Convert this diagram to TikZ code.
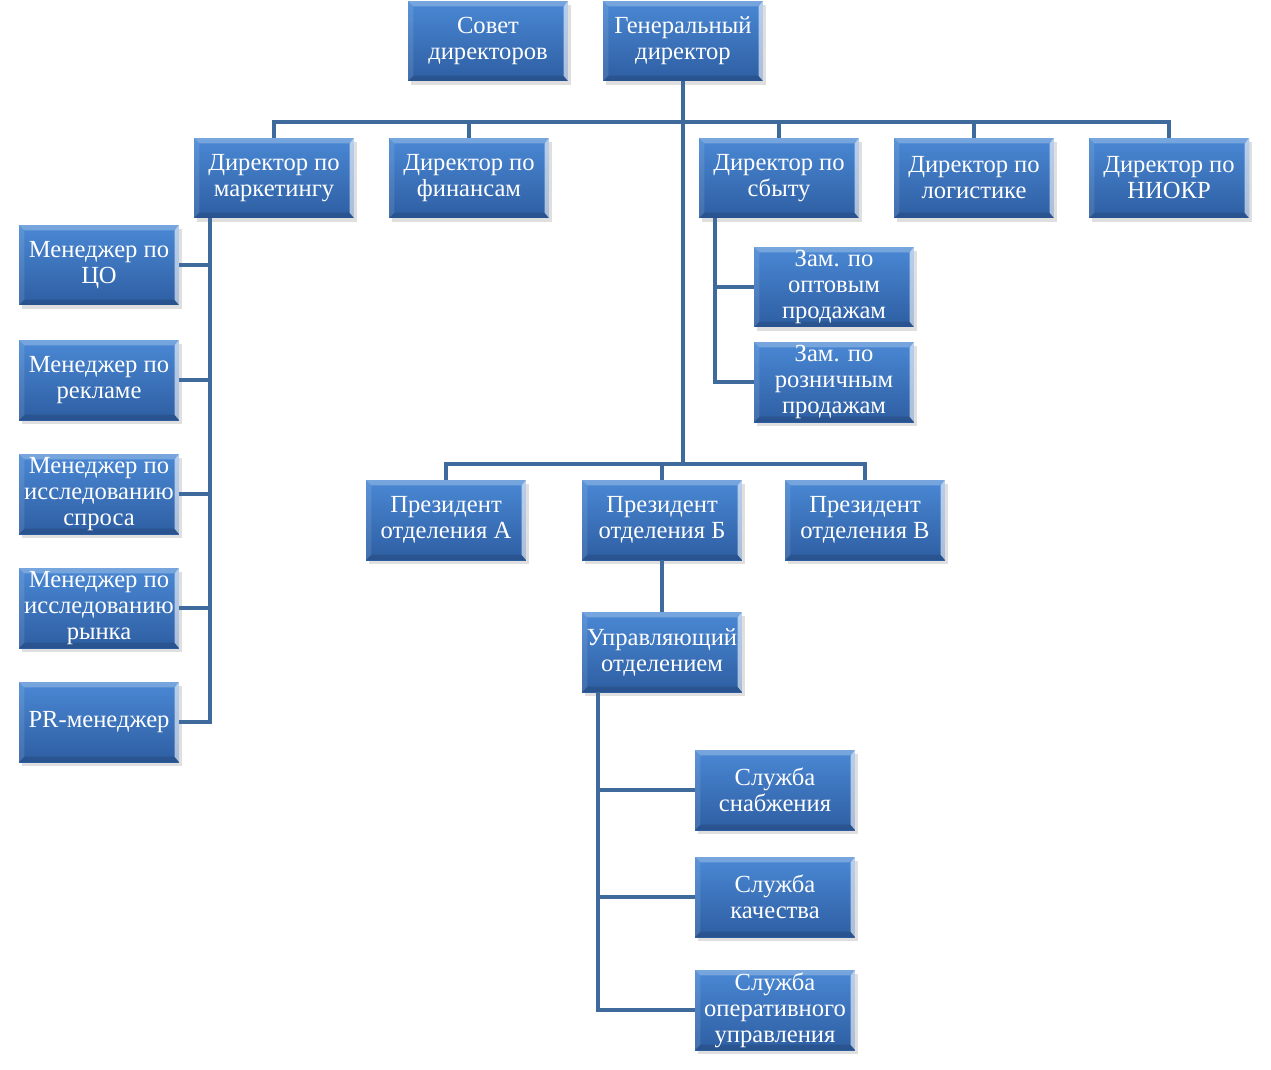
\documentclass[tikz,border=0pt]{standalone}
\usepackage{fontspec}
\setmainfont{Liberation Serif}
\usetikzlibrary{shadows}
\definecolor{boxtop}{RGB}{74,136,212}
\definecolor{boxbottom}{RGB}{46,94,162}
\definecolor{linkblue}{RGB}{62,106,156}
\tikzstyle{post}=[rectangle, inner sep=0pt,
                  minimum width=3.2cm, minimum height=1.6cm,
                  top color=boxtop, bottom color=boxbottom,
                  text=white, align=center,
                  font=\fontsize{14}{14.8}\selectfont,
                  drop shadow={shadow xshift=1.5pt,shadow yshift=-2.5pt,opacity=0.25},
                  path picture={
                    \coordinate (nw) at (path picture bounding box.north west);
                    \coordinate (ne) at (path picture bounding box.north east);
                    \coordinate (sw) at (path picture bounding box.south west);
                    \coordinate (se) at (path picture bounding box.south east);
                    \fill[white,opacity=0.25] (nw) -- (ne) -- ([shift={(-3pt,-3pt)}]ne) -- ([shift={(3pt,-3pt)}]nw) -- cycle;
                    \fill[white,opacity=0.1] (nw) -- (sw) -- ([shift={(3pt,3pt)}]sw) -- ([shift={(3pt,-3pt)}]nw) -- cycle;
                    \fill[white,opacity=0.6] (ne) -- (se) -- ([shift={(-2.5pt,3pt)}]se) -- ([shift={(-2.5pt,-3pt)}]ne) -- cycle;
                    \fill[black,opacity=0.12] (sw) -- (se) -- ([shift={(-2.5pt,3pt)}]se) -- ([shift={(3pt,3pt)}]sw) -- cycle;
                  }]
\begin{document}
\begin{tikzpicture}[x=0.02cm,y=-0.02cm]
  \tikzstyle{link}=[draw=linkblue, line width=2.6pt]
  \useasboundingbox (0,0) rectangle (1271,1069);
  % top
  \node (board) at (488,41) [post] {Совет\\директоров};
  \node (ceo) at (683,41) [post] {Генеральный\\директор};
  % directors
  \node (mkt) at (274,178) [post] {Директор по\\маркетингу};
  \node (fin) at (469,178) [post] {Директор по\\финансам};
  \node (sales) at (779,178) [post] {Директор по\\сбыту};
  \node (log) at (974,178) [post] {Директор по\\логистике};
  \node (rnd) at (1169,178) [post] {Директор по\\НИОКР};
  % marketing staff
  \node (mgr1) at (99,265) [post] {Менеджер по\\ЦО};
  \node (mgr2) at (99,380) [post] {Менеджер по\\рекламе};
  \node (mgr3) at (99,494) [post] {Менеджер по\\исследованию\\спроса};
  \node (mgr4) at (99,608) [post] {Менеджер по\\исследованию\\рынка};
  \node (mgr5) at (99,722) [post] {PR-менеджер};
  % sales deputies
  \node (dep1) at (834,287) [post] {Зам. по\\оптовым\\продажам};
  \node (dep2) at (834,382) [post] {Зам. по\\розничным\\продажам};
  % divisions
  \node (presA) at (446,520) [post] {Президент\\отделения А};
  \node (presB) at (662,520) [post] {Президент\\отделения Б};
  \node (presV) at (865,520) [post] {Президент\\отделения В};
  \node (head) at (662,652) [post] {Управляющий\\отделением};
  \node (srv1) at (775,790) [post] {Служба\\снабжения};
  \node (srv2) at (775,897) [post] {Служба\\качества};
  \node (srv3) at (775,1010) [post] {Служба\\оперативного\\управления};
  % connectors
  \coordinate (bus1) at (683,122);
  \coordinate (bus2) at (683,464);
  \coordinate (mline) at (210,218);
  \coordinate (sline) at (715,218);
  \coordinate (hline) at (598,692);
  \draw [link] (ceo.south) -- (bus2);
  \draw [link] (mkt.north) |- (rnd.north |- bus1) -- (rnd.north);
  \foreach \n in {fin,sales,log}
    \draw [link] (\n.north) -- (\n.north |- bus1);
  \draw [link] (presA.north) |- (presV.north |- bus2) -- (presV.north);
  \draw [link] (presB.north) -- (presB.north |- bus2);
  \draw [link] (presB.south) -- (head.north);
  \foreach \n in {mgr1,mgr2,mgr3,mgr4,mgr5}
    \draw [link] (mline) |- (\n.east);
  \foreach \n in {dep1,dep2}
    \draw [link] (sline) |- (\n.west);
  \foreach \n in {srv1,srv2,srv3}
    \draw [link] (hline) |- (\n.west);
\end{tikzpicture}
\end{document}
